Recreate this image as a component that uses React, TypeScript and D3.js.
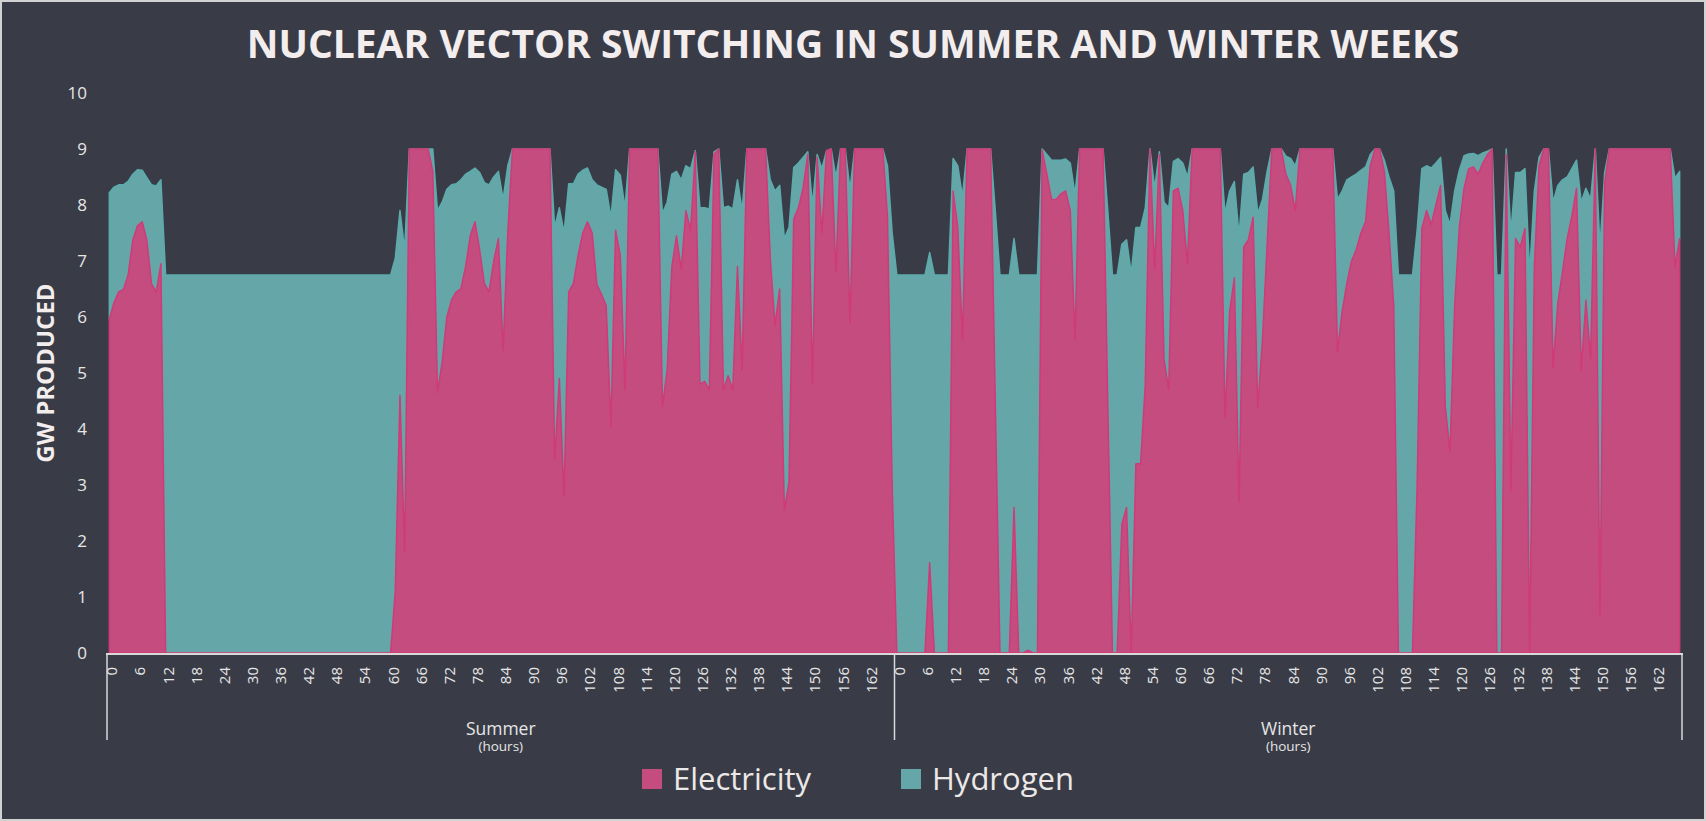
import { useEffect, useRef } from "react";
import * as d3 from "d3";

// categories
const seasons = ["Summer", "Winter"];
const hours = d3.range(0, 168);
const hourTicks = [0, 6, 12, 18, 24, 30, 36, 42, 48, 54, 60, 66, 72, 78, 84, 90, 96, 102, 108, 114, 120, 126, 132, 138, 144, 150, 156, 162];
const yTicks = [0, 1, 2, 3, 4, 5, 6, 7, 8, 9, 10];

// GW produced
const summerElectricity = [
  5.96, 6.26, 6.45, 6.49, 6.75, 7.37, 7.63, 7.7, 7.37, 6.59, 6.45, 6.95,
  0, 0, 0, 0, 0, 0, 0, 0, 0, 0, 0, 0, 0, 0, 0, 0, 0, 0, 0, 0, 0, 0, 0, 0,
  0, 0, 0, 0, 0, 0, 0, 0, 0, 0, 0, 0, 0, 0, 0, 0, 0, 0, 0, 0, 0, 0, 0, 0,
  0, 1.1, 4.6, 1.8,
  9, 9, 9, 9, 9,
  8.6, 4.65, 5.2, 6.0, 6.3, 6.45, 6.5, 6.9, 7.45, 7.7, 7.2, 6.6, 6.45, 7.0, 7.4, 5.4, 7.5,
  9, 9, 9, 9, 9, 9, 9, 9, 9,
  3.45, 4.9, 2.8, 6.45, 6.6, 7.1, 7.5, 7.7, 7.5, 6.58, 6.4, 6.2, 4.05, 7.55, 7.1, 4.7,
  9, 9, 9, 9, 9, 9, 9,
  4.4, 5.05, 6.9, 7.45, 6.85, 7.9, 7.55, 8.95, 4.8, 4.85, 4.7, 8.9, 9, 4.7, 4.95, 4.7, 6.9, 5.05,
  9, 9, 9, 9, 9,
  7.05, 5.85, 6.5, 2.55, 3.05, 7.75, 7.95, 8.3, 8.9, 4.8, 8.85, 7.5, 8.97, 9, 6.8, 9, 9, 5.9,
  9, 9, 9, 9, 9, 9, 9,
  7.8, 3.0,
];

const summerHydrogen = [
  2.26, 2.06, 1.91, 1.87, 1.67, 1.18, 1.0, 0.92, 1.12, 1.77, 1.89, 1.5,
  6.75, 6.75, 6.75, 6.75, 6.75, 6.75, 6.75, 6.75, 6.75, 6.75, 6.75, 6.75,
  6.75, 6.75, 6.75, 6.75, 6.75, 6.75, 6.75, 6.75, 6.75, 6.75, 6.75, 6.75,
  6.75, 6.75, 6.75, 6.75, 6.75, 6.75, 6.75, 6.75, 6.75, 6.75, 6.75, 6.75,
  6.75, 6.75, 6.75, 6.75, 6.75, 6.75, 6.75, 6.75, 6.75, 6.75, 6.75, 6.75,
  6.75, 5.95, 3.3, 5.4,
  0, 0, 0, 0, 0,
  0.4, 3.25, 2.85, 2.28, 2.06, 1.93, 1.95, 1.65, 1.15, 0.96, 1.38, 1.8, 1.91, 1.5, 1.2, 2.7, 1.2,
  0, 0, 0, 0, 0, 0, 0, 0, 0,
  4.15, 3.05, 4.7, 1.93, 1.78, 1.45, 1.12, 0.96, 0.95, 1.78, 1.92, 2.08, 3.73, 1.08, 1.43, 3.25,
  0, 0, 0, 0, 0, 0, 0,
  3.45, 3.0, 1.65, 1.15, 1.6, 0.8, 1.1, 0.02, 3.15, 3.1, 3.23, 0.05, 0, 3.25, 3.03, 3.23, 1.55, 2.85,
  0, 0, 0, 0, 0,
  1.4, 2.4, 1.85, 4.85, 4.55, 0.92, 0.8, 0.55, 0.05, 3.2, 0.05, 1.15, 0, 0, 1.7, 0, 0, 2.38,
  0, 0, 0, 0, 0, 0, 0,
  0.9, 4.5,
];

const winterElectricity = [
  0, 0, 0, 0, 0, 0, 0, 1.61, 0, 0, 0, 0,
  8.25, 7.6, 5.6,
  9, 9, 9, 9, 9, 9,
  4.5, 0, 0, 0, 2.6, 0, 0, 0.05, 0, 0,
  8.98, 8.55, 8.1, 8.1, 8.2, 8.25, 7.9, 5.6,
  9, 9, 9, 9, 9, 9,
  4.45, 0, 0, 2.3, 2.6, 0, 3.38, 3.38, 4.8, 9, 6.85, 8.9, 5.25, 4.7, 8.25, 8.3, 7.9, 6.95,
  9, 9, 9, 9, 9, 9, 9,
  4.2, 6.1, 6.7, 2.7, 7.25, 7.38, 7.78, 4.38, 5.6, 7.3,
  9, 9, 9,
  8.55, 8.35, 7.9,
  9, 9, 9, 9, 9, 9, 9, 9,
  5.38, 6.1, 6.6, 7.0, 7.2, 7.5, 7.7, 8.7,
  9, 9,
  8.6, 7.5, 6.2,
  0, 0, 0, 0,
  3.0, 7.58, 7.9, 7.65, 8.0, 8.35, 4.4, 3.6, 6.2, 7.6, 8.3, 8.65, 8.68, 8.55, 8.75, 8.9,
  9, 0, 0,
  8.9, 2.9, 7.4, 7.25, 7.58, 0, 6.9, 8.7,
  9, 9,
  5.1, 6.25, 6.8, 7.4, 7.8, 8.3, 5.05, 6.3, 5.25,
  9, 0.65, 8.38,
  9, 9, 9, 9, 9, 9, 9, 9, 9, 9, 9, 9, 9, 9,
  6.9, 7.4,
];

const winterHydrogen = [
  6.75, 6.75, 6.75, 6.75, 6.75, 6.75, 6.75, 5.54, 6.75, 6.75, 6.75, 6.75,
  0.58, 1.1, 2.55,
  0, 0, 0, 0, 0, 0,
  3.4, 6.75, 6.75, 6.75, 4.8, 6.75, 6.75, 6.7, 6.75, 6.75,
  0.02, 0.35, 0.7, 0.7, 0.6, 0.57, 0.85, 2.6,
  0, 0, 0, 0, 0, 0,
  3.45, 6.75, 6.75, 5.0, 4.78, 6.78, 4.22, 4.22, 3.15, 0, 1.45, 0.05, 2.8, 3.25, 0.53, 0.53, 0.85, 1.55,
  0, 0, 0, 0, 0, 0, 0,
  3.65, 2.15, 1.72, 4.75, 1.3, 1.2, 0.9, 3.47, 2.5, 1.3,
  0, 0, 0,
  0.32, 0.48, 0.8,
  0, 0, 0, 0, 0, 0, 0, 0,
  2.72, 2.15, 1.85, 1.5, 1.35, 1.12, 0.98, 0.2,
  0, 0,
  0.2, 1.0, 2.05,
  6.75, 6.75, 6.75, 6.75,
  4.55, 1.07, 0.8, 1.01, 0.75, 0.5, 3.5, 4.05, 2.05, 1.02, 0.58, 0.26, 0.24, 0.33, 0.18, 0.06,
  0, 6.75, 6.75,
  0.1, 4.6, 1.18, 1.33, 1.07, 6.78, 1.35, 0.15,
  0, 0,
  2.95, 2.1, 1.65, 1.1, 0.85, 0.5, 3.0, 2.0, 2.85,
  0, 6.6, 0.2,
  0, 0, 0, 0, 0, 0, 0, 0, 0, 0, 0, 0, 0, 0,
  1.58, 1.2,
];

const electricity = [summerElectricity, winterElectricity];
const hydrogen = [summerHydrogen, winterHydrogen];

const W = 1706;
const H = 821;
const font = "'Segoe UI', 'Open Sans', sans-serif";

const pink = "#c44c7e";
const pinkEdge = "#d13a78";
const teal = "#65a7a9";
const tealEdge = "#5cabac";

export default function App() {
  const svgRef = useRef<SVGSVGElement | null>(null);

  useEffect(() => {
    if (!svgRef.current) return;
    const svg = d3.select(svgRef.current);
    svg.selectAll("*").remove();

    const plot = { left: 107, right: 1682, top: 93, bottom: 653 };

    const rows = seasons.flatMap((s, si) =>
      hours.map((h) => ({
        key: `${s}-${h}`,
        season: s,
        hour: h,
        electricity: electricity[si][h],
        hydrogen: hydrogen[si][h],
      }))
    );

    const x = d3.scalePoint<string>()
      .domain(rows.map((d) => d.key))
      .range([plot.left, plot.right])
      .padding(0.5);
    const y = d3.scaleLinear().domain([0, 10]).range([plot.bottom, plot.top]);

    const series = d3.stack<any>().keys(["electricity", "hydrogen"])(rows);

    // background + frame
    svg.append("rect")
      .attr("x", 1).attr("y", 1)
      .attr("width", W - 2).attr("height", H - 2)
      .attr("fill", "#393c47")
      .attr("stroke", "#d2d2d2")
      .attr("stroke-width", 2);

    // title
    svg.append("text")
      .attr("x", 853).attr("y", 58)
      .attr("text-anchor", "middle")
      .attr("font-family", font)
      .attr("font-weight", 700)
      .attr("font-size", 39)
      .attr("fill", "#f3eded")
      .text("NUCLEAR VECTOR SWITCHING IN SUMMER AND WINTER WEEKS");

    const area = d3.area<any>()
      .x((d) => x(d.data.key) as number)
      .y0((d) => y(d[0]))
      .y1((d) => y(d[1]));

    // hydrogen stacked above electricity, drawn first so electricity sits on top
    svg.append("path")
      .datum(series[1])
      .attr("d", area)
      .attr("fill", teal)
      .attr("stroke", tealEdge)
      .attr("stroke-width", 1.5)
      .attr("stroke-linejoin", "round");

    svg.append("path")
      .datum(series[0])
      .attr("d", area)
      .attr("fill", pink)
      .attr("stroke", pinkEdge)
      .attr("stroke-width", 1.5)
      .attr("stroke-linejoin", "round");

    // y axis labels
    const yAxis = d3.axisLeft(y).tickValues(yTicks).tickSize(0).tickPadding(20);
    const gy = svg.append("g")
      .attr("transform", `translate(${plot.left},0)`)
      .call(yAxis);
    gy.select(".domain").remove();
    gy.selectAll("text")
      .attr("font-family", font)
      .attr("font-size", 17)
      .attr("fill", "#e6e6e6");

    svg.append("text")
      .attr("transform", `translate(46,${(plot.top + plot.bottom) / 2}) rotate(-90)`)
      .attr("text-anchor", "middle")
      .attr("dy", "0.35em")
      .attr("font-family", font)
      .attr("font-weight", 700)
      .attr("font-size", 24)
      .attr("fill", "#f3eded")
      .text("GW PRODUCED");

    // x axis line
    svg.append("line")
      .attr("x1", plot.left - 1).attr("x2", plot.right + 1)
      .attr("y1", plot.bottom + 1).attr("y2", plot.bottom + 1)
      .attr("stroke", "#d9d9d9")
      .attr("stroke-width", 2);

    const step = x.step();
    const bounds = [plot.left, plot.left + step * hours.length, plot.right];
    svg.selectAll(".group-line")
      .data(bounds)
      .join("line")
      .attr("class", "group-line")
      .attr("x1", (d) => d).attr("x2", (d) => d)
      .attr("y1", plot.bottom).attr("y2", 740)
      .attr("stroke", "#d9d9d9")
      .attr("stroke-width", 1.5);

    seasons.forEach((s, si) => {
      svg.append("g")
        .selectAll("text")
        .data(hourTicks)
        .join("text")
        .attr("transform", (t) => `translate(${x(`${s}-${t}`)},667) rotate(-90)`)
        .attr("text-anchor", "end")
        .attr("dy", "0.53em")
        .attr("font-family", font)
        .attr("font-size", 15)
        .attr("fill", "#e6e6e6")
        .text((t) => t);

      const cx = (bounds[si] + bounds[si + 1]) / 2;
      svg.append("text")
        .attr("x", cx).attr("y", 735)
        .attr("text-anchor", "middle")
        .attr("font-family", font)
        .attr("font-size", 17.5)
        .attr("fill", "#e6e6e6")
        .text(s);
      svg.append("text")
        .attr("x", cx).attr("y", 751)
        .attr("text-anchor", "middle")
        .attr("font-family", font)
        .attr("font-size", 13.5)
        .attr("fill", "#e6e6e6")
        .text("(hours)");
    });

    // legend
    const legend = [
      { name: "Electricity", color: pink, x: 642 },
      { name: "Hydrogen", color: teal, x: 901 },
    ];
    const lg = svg.append("g")
      .selectAll("g")
      .data(legend)
      .join("g")
      .attr("transform", (d) => `translate(${d.x},769)`);
    lg.append("rect")
      .attr("width", 20).attr("height", 20)
      .attr("fill", (d) => d.color);
    lg.append("text")
      .attr("x", 31).attr("y", 21)
      .attr("font-family", font)
      .attr("font-size", 31)
      .attr("fill", "#ece8e8")
      .text((d) => d.name);
  }, []);

  return (
    <div style={{ position: "absolute", left: 0, top: 0 }}>
      <svg ref={svgRef} width={W} height={H} />
    </div>
  );
}
